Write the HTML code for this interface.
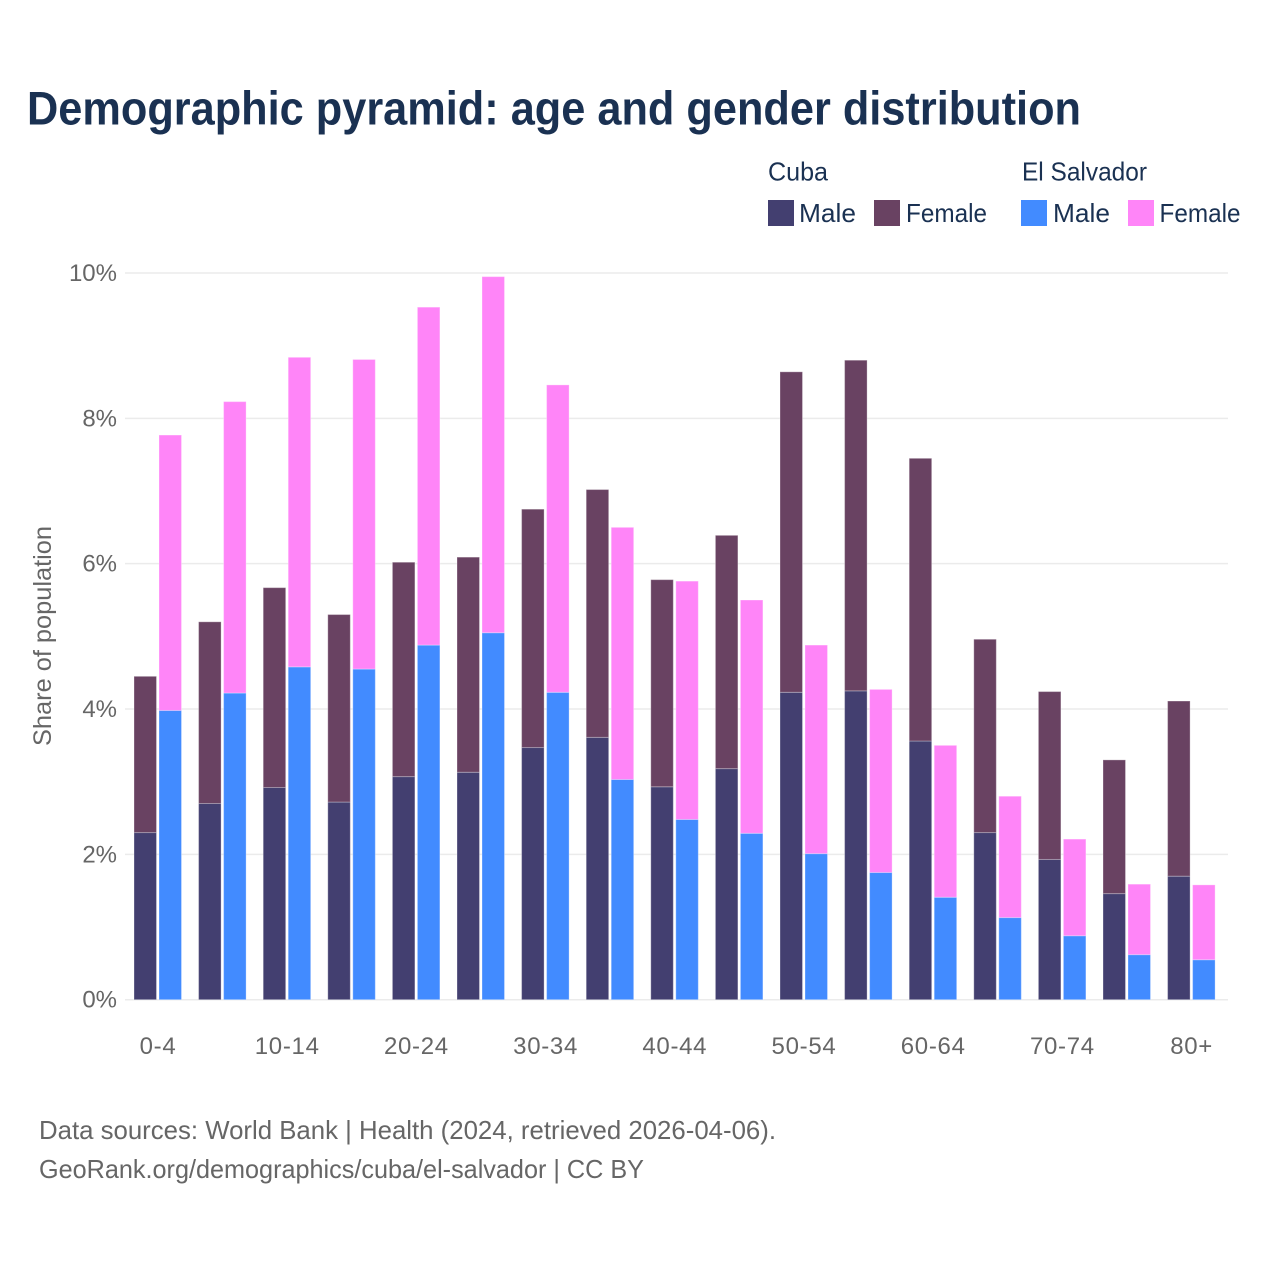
<!DOCTYPE html>
<html lang="en">
<head>
<meta charset="utf-8">
<title>Demographic pyramid: age and gender distribution</title>
<style>
html,body{margin:0;padding:0;background:#fff;}
svg{display:block;font-family:"Liberation Sans",sans-serif;}
</style>
</head>
<body>
<svg id="chart" xmlns="http://www.w3.org/2000/svg" width="1280" height="1280" viewBox="0 0 1280 1280">
  <rect x="0" y="0" width="1280" height="1280" fill="#ffffff"/>
  <text x="27" y="124.5" font-size="47" font-weight="700" fill="#1a3152" textLength="1054" lengthAdjust="spacingAndGlyphs">Demographic pyramid: age and gender distribution</text>

  <g font-size="26" fill="#1a3152">
    <text x="768" y="180.5" textLength="60" lengthAdjust="spacingAndGlyphs">Cuba</text>
    <text x="1022" y="180.5" textLength="125" lengthAdjust="spacingAndGlyphs">El Salvador</text>
    <rect x="768" y="200" width="26" height="26" fill="#433f70"/>
    <text x="799" y="222" textLength="57" lengthAdjust="spacingAndGlyphs">Male</text>
    <rect x="874" y="200" width="26" height="26" fill="#694262"/>
    <text x="906" y="222" textLength="81" lengthAdjust="spacingAndGlyphs">Female</text>
    <rect x="1021" y="200" width="26" height="26" fill="#428bff"/>
    <text x="1053" y="222" textLength="57" lengthAdjust="spacingAndGlyphs">Male</text>
    <rect x="1128" y="200" width="26" height="26" fill="#ff85f8"/>
    <text x="1159.5" y="222" textLength="81" lengthAdjust="spacingAndGlyphs">Female</text>
  </g>

  <g id="grid"></g>
  <g id="y-ticks"></g>
  <g id="bars"></g>
  <g id="x-ticks"></g>

  <text transform="translate(51 746) rotate(-90)" font-size="25" fill="#666666" textLength="220" lengthAdjust="spacingAndGlyphs">Share of population</text>

  <g font-size="26" fill="#666666">
    <text x="39" y="1139" textLength="737" lengthAdjust="spacingAndGlyphs">Data sources: World Bank | Health (2024, retrieved 2026-04-06).</text>
    <text x="39" y="1178" textLength="605" lengthAdjust="spacingAndGlyphs">GeoRank.org/demographics/cuba/el-salvador | CC BY</text>
  </g>
</svg>
<script>
const categories = ["0-4","5-9","10-14","15-19","20-24","25-29","30-34","35-39","40-44","45-49","50-54","55-59","60-64","65-69","70-74","75-79","80+"];
const xTickLabels = ["0-4","10-14","20-24","30-34","40-44","50-54","60-64","70-74","80+"];
const yTicks = [0,2,4,6,8,10];
const cubaMale = [2.30,2.70,2.92,2.72,3.07,3.13,3.47,3.61,2.93,3.18,4.23,4.25,3.56,2.30,1.93,1.46,1.70];
const cubaFemale = [2.15,2.50,2.75,2.58,2.95,2.96,3.28,3.41,2.85,3.21,4.41,4.55,3.89,2.66,2.31,1.84,2.41];
const salvadorMale = [3.98,4.22,4.58,4.55,4.88,5.05,4.23,3.03,2.48,2.29,2.01,1.75,1.41,1.13,0.88,0.62,0.55];
const salvadorFemale = [3.79,4.01,4.26,4.26,4.65,4.90,4.23,3.47,3.28,3.21,2.87,2.52,2.09,1.67,1.33,0.97,1.03];

const NS = "http://www.w3.org/2000/svg";
const yScale = function (v) { return 999.7 - v * 72.67; };
const xCenter = function (i) { return 158 + i * 64.6; };
const barWidth = 22.5;

const gridLayer = document.getElementById("grid");
const yTickLayer = document.getElementById("y-ticks");
yTicks.forEach(function (t) {
  const line = document.createElementNS(NS, "line");
  
  
  line.setAttribute("x1", 125);
  line.setAttribute("x2", 1228);
  line.setAttribute("y1", yScale(t));
  line.setAttribute("y2", yScale(t));
  line.setAttribute("stroke", "#ebebeb");
  line.setAttribute("stroke-width", 1.5);
  gridLayer.appendChild(line);

  const label = document.createElementNS(NS, "text");
  
  
  label.setAttribute("x", 117);
  label.setAttribute("y", yScale(t) + 8);
  label.setAttribute("text-anchor", "end");
  label.setAttribute("font-size", 24);
  label.setAttribute("fill", "#666666");
  label.textContent = t + "%";
  yTickLayer.appendChild(label);
});

const barLayer = document.getElementById("bars");
function addBar(x, base, value, fill) {
  const rect = document.createElementNS(NS, "rect");
  
  
  rect.setAttribute("x", x);
  rect.setAttribute("y", yScale(base + value));
  rect.setAttribute("width", barWidth);
  rect.setAttribute("height", yScale(base) - yScale(base + value));
  rect.setAttribute("fill", fill);
  rect.setAttribute("stroke", "#ffffff");
  rect.setAttribute("stroke-opacity", 0.3);
  rect.setAttribute("stroke-width", 1);
  barLayer.appendChild(rect);
}
categories.forEach(function (c, i) {
  const cx = xCenter(i);
  addBar(cx - 24, 0, cubaMale[i], "#433f70");
  addBar(cx - 24, cubaMale[i], cubaFemale[i], "#694262");
  addBar(cx + 1, 0, salvadorMale[i], "#428bff");
  addBar(cx + 1, salvadorMale[i], salvadorFemale[i], "#ff85f8");
});

const xTickLayer = document.getElementById("x-ticks");
xTickLabels.forEach(function (c) {
  const label = document.createElementNS(NS, "text");
  
  
  label.setAttribute("x", xCenter(categories.indexOf(c)));
  label.setAttribute("y", 1054);
  label.setAttribute("text-anchor", "middle");
  label.setAttribute("font-size", 24);
  label.setAttribute("letter-spacing", "0.7");
  label.setAttribute("fill", "#666666");
  label.textContent = c;
  xTickLayer.appendChild(label);
});
</script>
</body>
</html>
